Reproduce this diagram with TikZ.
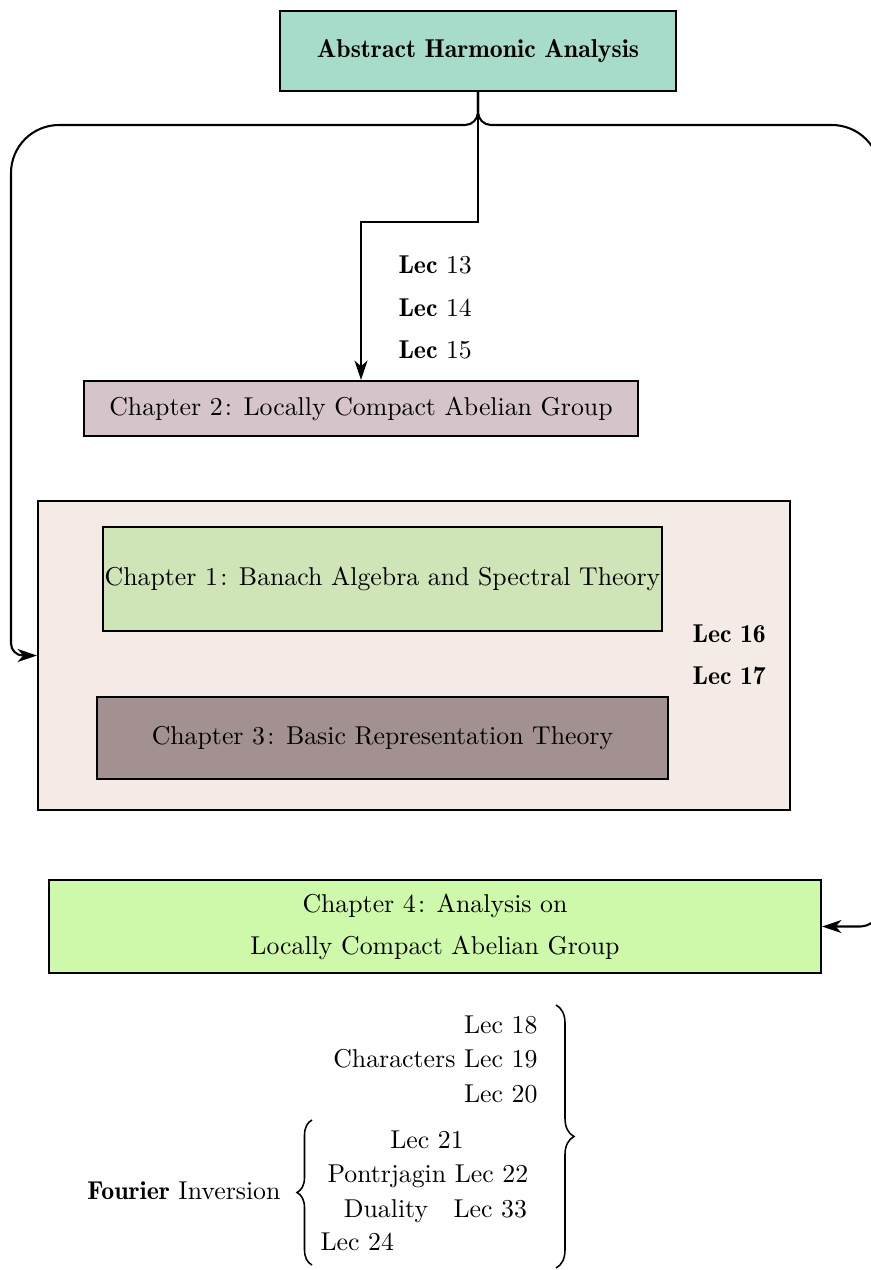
\documentclass[tikz,border=0pt]{standalone}
\usetikzlibrary{arrows.meta,decorations.pathreplacing}
\definecolor{ctop}{HTML}{A8DCCA}
\definecolor{ctwo}{HTML}{D5C5CB}
\definecolor{cbig}{HTML}{F4EBE7}
\definecolor{cone}{HTML}{CFE4B7}
\definecolor{cthree}{HTML}{A39090}
\definecolor{cfour}{HTML}{CEF9AA}
\def\px{0.3876pt}
\newcommand\bft[1]{{\fontseries{b}\selectfont #1}}
\newcommand\chapnum[1]{#1\kern0.9pt:}
\tikzset{
  box/.style={draw, line width=0.8pt, inner sep=0pt, align=center},
  conn/.style={line width=0.8pt, -{Stealth[length=7.5pt,width=5pt,inset=2.2pt]}},
  lbl/.style={inner sep=0pt},
  brc/.style={decorate, line width=0.6pt}
}
\begin{document}
\begin{tikzpicture}[x=\px, y=-\px]
\useasboundingbox (0,0) rectangle (870,1270);
% boxes
\node[box, fill=ctop, minimum width=396*\px, minimum height=80*\px] (top) at (478,51) {\bft{Abstract Harmonic Analysis}};
\node[box, fill=ctwo, minimum width=554*\px, minimum height=55*\px] (ch2) at (361,408.5) {Chapter \chapnum{2} Locally Compact Abelian Group};
\node[box, fill=cbig, minimum width=752*\px, minimum height=309*\px] (big) at (414,655.5) {};
\node[box, fill=cone, minimum width=559*\px, minimum height=104*\px] (ch1) at (382.5,579) {Chapter \chapnum{1} Banach Algebra and Spectral Theory};
\node[box, fill=cthree, minimum width=571*\px, minimum height=82*\px] (ch3) at (382.5,738) {Chapter \chapnum{3} Basic Representation Theory};
\node[box, fill=cfour, minimum width=772*\px, minimum height=93*\px] (ch4) at (435,926.5) {Chapter \chapnum{4} Analysis on\\[4.3pt] Locally Compact Abelian Group};
% lecture labels
\node[lbl, anchor=base west] (l13) at (398,273) {\bft{Lec} 13};
\node[lbl, anchor=base west] (l14) at (398,316) {\bft{Lec} 14};
\node[lbl, anchor=base west] (l15) at (398,358) {\bft{Lec} 15};
\node[lbl, anchor=base west] (l16) at (692,642) {\bft{Lec 16}};
\node[lbl, anchor=base west] (l17) at (692,684) {\bft{Lec 17}};
% connectors
\coordinate (j) at (478,222);
\coordinate (k) at (361,222);
\draw[conn] (top.south) -- (j) -- (k) -- (ch2.north);
\draw[conn] (top.south) [rounded corners=13*\px] -- (478,125) [rounded corners=48*\px] -- (11,125) [rounded corners=12*\px] -- (11,655.5) -- (big.west);
\draw[conn] (top.south) [rounded corners=13*\px] -- (478,125) [rounded corners=48*\px] -- (880,125) [rounded corners=20*\px] -- (880,926.5) -- (ch4.east);
% bottom list
\node[lbl, anchor=base east] (l18) at (538,1033) {Lec 18};
\node[lbl, anchor=base east] (l19) at (538,1067) {Characters Lec 19};
\node[lbl, anchor=base east] (l20) at (538,1102) {Lec 20};
\node[lbl, anchor=base] (l21) at (427,1148) {Lec 21};
\node[lbl, anchor=base west] (l22) at (327,1182) {Pontrjagin Lec 22};
\node[lbl, anchor=base] (dual) at (386,1217) {Duality};
\node[lbl, anchor=base west] (l33) at (453,1217) {Lec 33};
\node[lbl, anchor=base west] (l24) at (320,1250) {Lec 24};
\node[lbl, anchor=base east] (four) at (281,1199) {\bft{Fourier} Inversion};
% braces
\coordinate (rb1) at (556,1005);
\coordinate (rb2) at (556,1268);
\draw[brc, decoration={brace, amplitude=18*\px}] (rb1) -- (rb2);
\coordinate (lb1) at (312,1265);
\coordinate (lb2) at (312,1120);
\draw[brc, decoration={brace, amplitude=15*\px}] (lb1) -- (lb2);
\end{tikzpicture}
\end{document}
